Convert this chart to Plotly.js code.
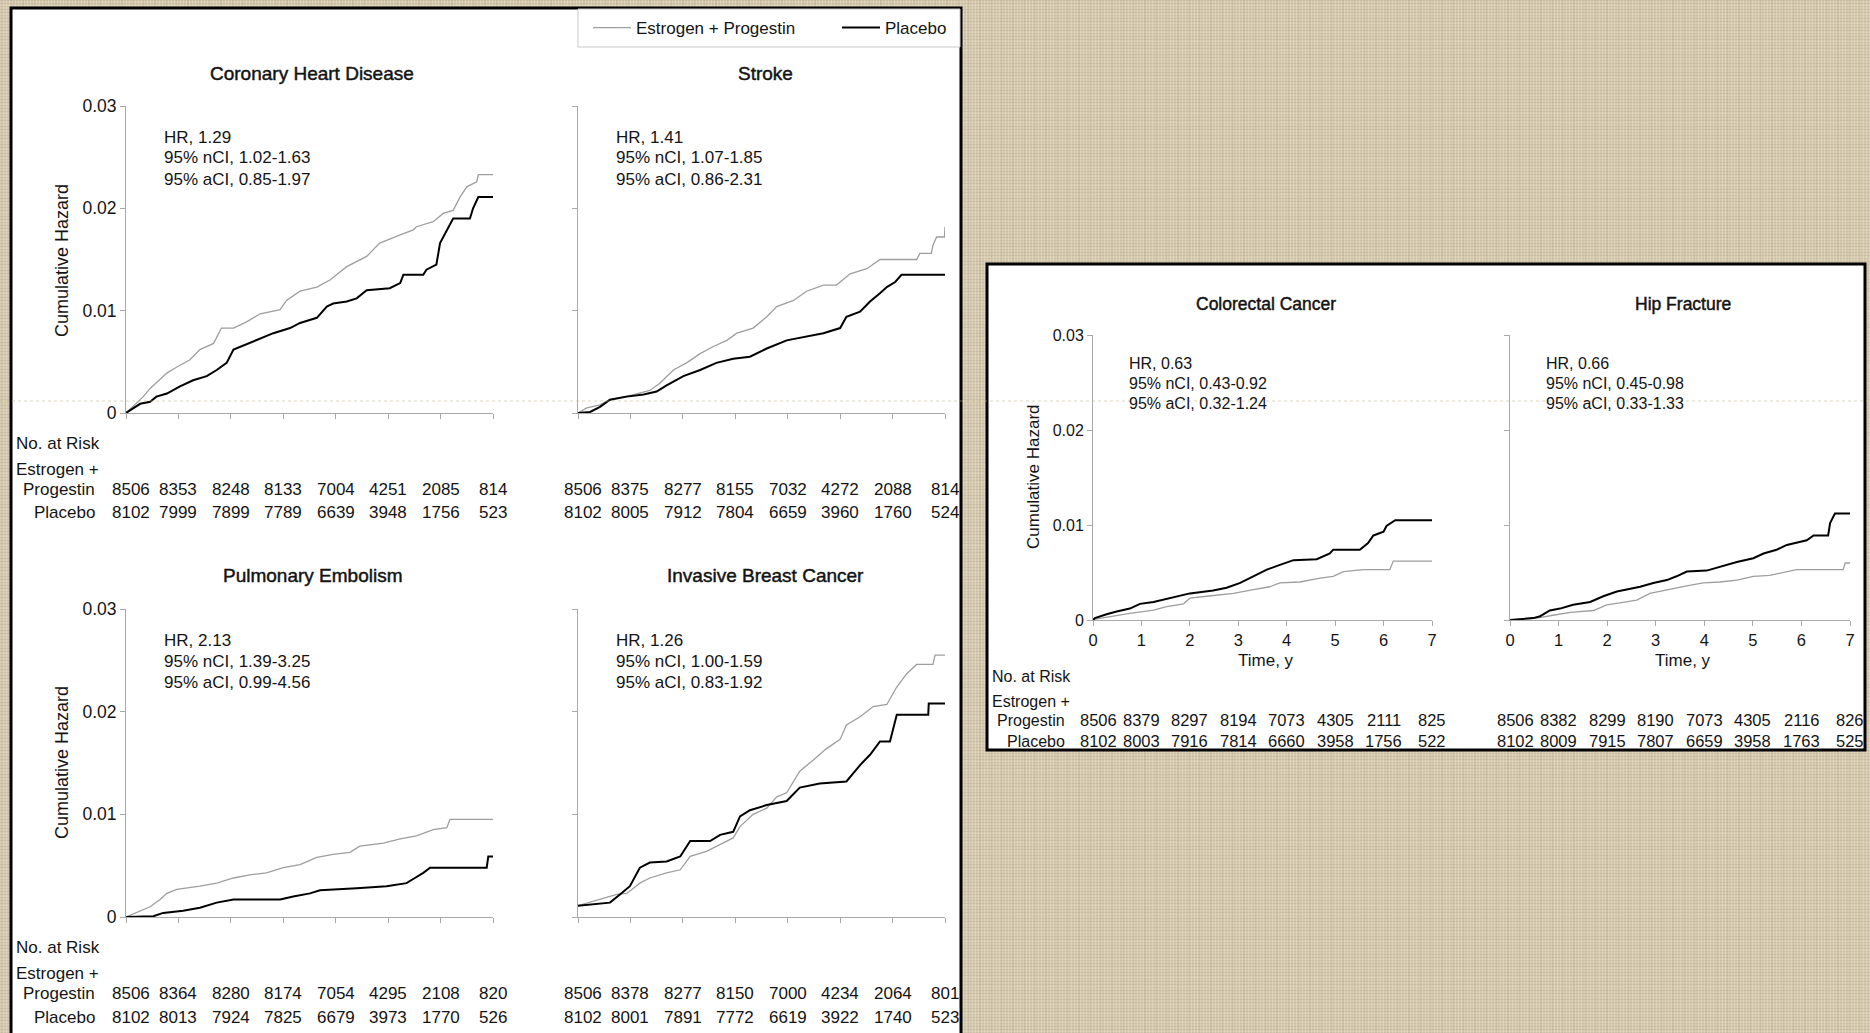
<!DOCTYPE html>
<html>
<head>
<meta charset="utf-8">
<script src="https://cdn.plot.ly/plotly-3.0.1.min.js"></script>
<style>
  html, body { margin: 0; padding: 0; width: 1870px; height: 1033px; overflow: hidden; }
  body {
    background-color: #d4c8ad;
    background-image:
      repeating-linear-gradient(90deg, rgba(255,252,240,0.26) 0px, rgba(255,252,240,0.26) 1px, rgba(0,0,0,0) 1px, rgba(0,0,0,0) 3px),
      repeating-linear-gradient(0deg, rgba(115,95,65,0.12) 0px, rgba(115,95,65,0.12) 1px, rgba(0,0,0,0) 1px, rgba(0,0,0,0) 3px),
      repeating-linear-gradient(90deg, rgba(120,100,70,0.07) 0px, rgba(120,100,70,0.07) 2px, rgba(0,0,0,0) 2px, rgba(0,0,0,0) 11px),
      repeating-linear-gradient(0deg, rgba(255,250,235,0.10) 0px, rgba(255,250,235,0.10) 2px, rgba(0,0,0,0) 2px, rgba(0,0,0,0) 9px);
  }
  #chart { width: 1870px; height: 1033px; }
</style>
</head>
<body>
<div id="chart"></div>
<script>
// ---------- data: cumulative hazard by follow-up year ----------
const years = [0, 1, 2, 3, 4, 5, 6, 7];
const seriesNames = ['Estrogen + Progestin', 'Placebo'];

// Coronary heart disease
const chdEPTime = [0, 0.33, 0.46, 0.78, 0.97, 1.22, 1.41, 1.67, 1.82, 2.05, 2.30, 2.56, 2.94, 3.06, 3.32, 3.64, 3.89, 4.21, 4.59, 4.84, 5.23, 5.48, 5.54, 5.86, 6.05, 6.24, 6.37, 6.50, 6.69, 6.72, 7.0];
const chdEPHaz  = [0, 0.0016, 0.0024, 0.0039, 0.0045, 0.0052, 0.0062, 0.0068, 0.0083, 0.0083, 0.0089, 0.0097, 0.0101, 0.0110, 0.0119, 0.0123, 0.0130, 0.0143, 0.0153, 0.0166, 0.0174, 0.0179, 0.0182, 0.0187, 0.0195, 0.0198, 0.0211, 0.0221, 0.0226, 0.0233, 0.0233];
const chdPlTime = [0, 0.14, 0.27, 0.46, 0.58, 0.78, 1.03, 1.28, 1.54, 1.73, 1.92, 2.05, 2.24, 2.56, 2.81, 3.13, 3.32, 3.64, 3.83, 3.95, 4.21, 4.40, 4.59, 5.03, 5.23, 5.29, 5.67, 5.73, 5.92, 5.99, 6.15, 6.24, 6.56, 6.62, 6.72, 7.0];
const chdPlHaz  = [0, 0.0005, 0.0009, 0.0011, 0.0016, 0.0019, 0.0026, 0.0032, 0.0036, 0.0042, 0.0049, 0.0062, 0.0066, 0.0073, 0.0078, 0.0083, 0.0088, 0.0093, 0.0104, 0.0107, 0.0109, 0.0112, 0.0120, 0.0122, 0.0127, 0.0135, 0.0135, 0.0140, 0.0145, 0.0166, 0.0182, 0.0190, 0.0190, 0.0200, 0.0211, 0.0211];

// Stroke
const strokeEPTime = [0, 0.17, 0.42, 0.61, 1.06, 1.37, 1.56, 1.82, 2.07, 2.33, 2.58, 2.84, 3.03, 3.34, 3.60, 3.79, 4.11, 4.36, 4.68, 4.93, 5.19, 5.51, 5.76, 6.46, 6.52, 6.74, 6.77, 6.84, 6.99, 7.0];
const strokeEPHaz  = [0, 0.0005, 0.0008, 0.0013, 0.0018, 0.0022, 0.0029, 0.0042, 0.0049, 0.0058, 0.0065, 0.0071, 0.0078, 0.0083, 0.0094, 0.0104, 0.0110, 0.0119, 0.0125, 0.0125, 0.0136, 0.0141, 0.0150, 0.0150, 0.0156, 0.0156, 0.0164, 0.0172, 0.0172, 0.0182];
const strokePlTime = [0, 0.23, 0.42, 0.61, 0.93, 1.25, 1.50, 1.69, 2.01, 2.33, 2.64, 2.96, 3.28, 3.60, 3.98, 4.36, 4.68, 5.0, 5.12, 5.38, 5.57, 5.76, 5.89, 6.05, 6.17, 7.0];
const strokePlHaz  = [0, 0.0001, 0.0006, 0.0013, 0.0016, 0.0018, 0.0021, 0.0027, 0.0036, 0.0042, 0.0049, 0.0053, 0.0055, 0.0063, 0.0071, 0.0075, 0.0078, 0.0083, 0.0094, 0.0099, 0.0109, 0.0117, 0.0123, 0.0128, 0.0135, 0.0135];

// Pulmonary embolism
const peEPTime = [0, 0.27, 0.46, 0.65, 0.78, 0.97, 1.16, 1.41, 1.73, 2.05, 2.36, 2.68, 3.0, 3.32, 3.64, 3.95, 4.27, 4.46, 4.91, 5.23, 5.54, 5.86, 6.12, 6.18, 7.0];
const peEPHaz  = [0, 0.00055, 0.0010, 0.0017, 0.0023, 0.0027, 0.0028, 0.0030, 0.0033, 0.0038, 0.0041, 0.0043, 0.0048, 0.0051, 0.0058, 0.0061, 0.0063, 0.0069, 0.0072, 0.0076, 0.0079, 0.0085, 0.0087, 0.0095, 0.0095];
const pePlTime = [0, 0.52, 0.71, 1.09, 1.41, 1.73, 2.05, 2.94, 3.19, 3.51, 3.70, 4.15, 4.40, 4.97, 5.35, 5.51, 5.67, 5.80, 6.88, 6.91, 7.0];
const pePlHaz  = [0, 0.00007, 0.0004, 0.0006, 0.0009, 0.0014, 0.0017, 0.0017, 0.0020, 0.0023, 0.0026, 0.0027, 0.0028, 0.0030, 0.0033, 0.0038, 0.0043, 0.0048, 0.0048, 0.0059, 0.0059];

// Invasive breast cancer
const breastEPTime = [0, 0.42, 0.74, 0.93, 1.18, 1.37, 1.69, 1.95, 2.14, 2.45, 2.64, 2.96, 3.09, 3.34, 3.60, 3.79, 3.98, 4.23, 4.49, 4.74, 5.0, 5.12, 5.38, 5.63, 5.89, 6.08, 6.27, 6.46, 6.77, 6.81, 7.0];
const breastEPHaz  = [0.0011, 0.0017, 0.0022, 0.0023, 0.0033, 0.0038, 0.0043, 0.0046, 0.0059, 0.0064, 0.0069, 0.0077, 0.0088, 0.0100, 0.0106, 0.0117, 0.0121, 0.0142, 0.0153, 0.0164, 0.0173, 0.0187, 0.0195, 0.0205, 0.0207, 0.0224, 0.0237, 0.0246, 0.0246, 0.0255, 0.0255];
const breastPlTime = [0, 0.61, 0.80, 0.99, 1.18, 1.37, 1.69, 1.95, 2.14, 2.52, 2.71, 2.96, 3.09, 3.28, 3.60, 3.98, 4.23, 4.61, 5.12, 5.25, 5.38, 5.57, 5.76, 5.95, 6.05, 6.08, 6.68, 6.69, 7.0];
const breastPlHaz  = [0.0011, 0.0014, 0.0022, 0.0030, 0.0048, 0.0053, 0.0054, 0.0059, 0.0074, 0.0074, 0.0080, 0.0083, 0.0098, 0.0104, 0.0109, 0.0113, 0.0126, 0.0130, 0.0132, 0.0140, 0.0148, 0.0158, 0.0171, 0.0171, 0.0190, 0.0197, 0.0197, 0.0208, 0.0208];

// Colorectal cancer
const crcEPTime = [0, 0.04, 0.42, 0.76, 1.25, 1.52, 1.87, 2.0, 2.35, 2.90, 3.31, 3.65, 3.86, 4.27, 4.69, 4.96, 5.17, 5.58, 6.13, 6.20, 7.0];
const crcEPHaz  = [0, 0.0001, 0.0004, 0.0007, 0.00105, 0.0014, 0.0017, 0.0023, 0.0025, 0.0028, 0.0032, 0.0035, 0.0039, 0.0040, 0.0044, 0.0046, 0.0051, 0.0053, 0.0053, 0.0062, 0.0062];
const crcPlTime = [0, 0.04, 0.28, 0.49, 0.76, 0.97, 1.25, 1.52, 1.80, 2.0, 2.48, 2.76, 3.04, 3.31, 3.59, 3.86, 4.14, 4.62, 4.89, 4.96, 5.51, 5.68, 5.79, 6.0, 6.06, 6.24, 7.0];
const crcPlHaz  = [0, 0.0002, 0.0006, 0.0009, 0.0012, 0.0017, 0.0019, 0.0022, 0.0025, 0.0028, 0.0031, 0.0034, 0.0039, 0.0046, 0.0053, 0.0058, 0.0063, 0.0064, 0.0070, 0.0074, 0.0074, 0.0081, 0.0089, 0.0093, 0.0099, 0.0105, 0.0105];

// Hip fracture
const hipEPTime = [0, 0.55, 0.89, 1.24, 1.72, 1.99, 2.26, 2.61, 2.88, 3.23, 3.64, 3.98, 4.32, 4.67, 5.01, 5.35, 5.70, 5.90, 6.86, 6.90, 7.0];
const hipEPHaz  = [0, 0.0002, 0.0005, 0.0008, 0.0010, 0.0016, 0.0018, 0.0021, 0.0028, 0.0032, 0.0036, 0.0039, 0.0040, 0.0042, 0.0046, 0.0047, 0.0051, 0.0053, 0.0053, 0.0060, 0.0060];
const hipPlTime = [0, 0.48, 0.62, 0.82, 1.03, 1.30, 1.65, 1.92, 2.20, 2.40, 2.68, 2.95, 3.23, 3.43, 3.64, 4.05, 4.32, 4.67, 5.01, 5.22, 5.49, 5.70, 6.11, 6.25, 6.55, 6.59, 6.69, 7.0];
const hipPlHaz  = [0, 0.0002, 0.0004, 0.0010, 0.0012, 0.0016, 0.0019, 0.0025, 0.0030, 0.0032, 0.0035, 0.0039, 0.0042, 0.0046, 0.0051, 0.0052, 0.0056, 0.0061, 0.0065, 0.0070, 0.0074, 0.0079, 0.0084, 0.0089, 0.0089, 0.0102, 0.0112, 0.0112];

// Numbers at risk at each year
const chdRiskEP    = [8506, 8353, 8248, 8133, 7004, 4251, 2085, 814];
const chdRiskPl    = [8102, 7999, 7899, 7789, 6639, 3948, 1756, 523];
const strokeRiskEP = [8506, 8375, 8277, 8155, 7032, 4272, 2088, 814];
const strokeRiskPl = [8102, 8005, 7912, 7804, 6659, 3960, 1760, 524];
const peRiskEP     = [8506, 8364, 8280, 8174, 7054, 4295, 2108, 820];
const peRiskPl     = [8102, 8013, 7924, 7825, 6679, 3973, 1770, 526];
const breastRiskEP = [8506, 8378, 8277, 8150, 7000, 4234, 2064, 801];
const breastRiskPl = [8102, 8001, 7891, 7772, 6619, 3922, 1740, 523];
const crcRiskEP    = [8506, 8379, 8297, 8194, 7073, 4305, 2111, 825];
const crcRiskPl    = [8102, 8003, 7916, 7814, 6660, 3958, 1756, 522];
const hipRiskEP    = [8506, 8382, 8299, 8190, 7073, 4305, 2116, 826];
const hipRiskPl    = [8102, 8009, 7915, 7807, 6659, 3958, 1763, 525];

// Hazard ratios with nominal and adjusted confidence intervals
const chdStats    = ['HR, 1.29', '95% nCI, 1.02-1.63', '95% aCI, 0.85-1.97'];
const strokeStats = ['HR, 1.41', '95% nCI, 1.07-1.85', '95% aCI, 0.86-2.31'];
const peStats     = ['HR, 2.13', '95% nCI, 1.39-3.25', '95% aCI, 0.99-4.56'];
const breastStats = ['HR, 1.26', '95% nCI, 1.00-1.59', '95% aCI, 0.83-1.92'];
const crcStats    = ['HR, 0.63', '95% nCI, 0.43-0.92', '95% aCI, 0.32-1.24'];
const hipStats    = ['HR, 0.66', '95% nCI, 0.45-0.98', '95% aCI, 0.33-1.33'];

const panelTitles = ['Coronary Heart Disease', 'Stroke', 'Pulmonary Embolism', 'Invasive Breast Cancer', 'Colorectal Cancer', 'Hip Fracture'];
const hazardTicks = [0, 0.01, 0.02, 0.03];
const hazardTickText = ['0', '0.01', '0.02', '0.03'];
const riskLabels = ['No. at Risk', 'Estrogen +', 'Progestin', 'Placebo'];
const yTitle = 'Cumulative Hazard';
const xTitle = 'Time, y';

// ---------- layout helpers (pixel positions on a 1870 x 1033 page) ----------
const W = 1870, H = 1033;
const px = x => x / W;
const py = y => 1 - y / H;
const FONT = 'Liberation Sans, Arial, Helvetica, sans-serif';
const INK = '#141414';
const AXIS = '#a9a9a9';
const EP_COLOR = '#9e9e9e';
const PL_COLOR = '#000000';

// Each panel: plot box (left, right, top, bottom) in pixels, text geometry and sizes
const panels = [
  { title: panelTitles[0], epT: chdEPTime, epH: chdEPHaz, plT: chdPlTime, plH: chdPlHaz, riskEP: chdRiskEP, riskPl: chdRiskPl, stats: chdStats,
    box: [126, 493, 106, 413], titleXY: [312, 73], statsXY: [162, 137], lineGap: 21, yLabels: true, xLabels: false,
    riskY: [489, 513], big: true },
  { title: panelTitles[1], epT: strokeEPTime, epH: strokeEPHaz, plT: strokePlTime, plH: strokePlHaz, riskEP: strokeRiskEP, riskPl: strokeRiskPl, stats: strokeStats,
    box: [578, 945, 106, 413], titleXY: [765, 73], statsXY: [614, 137], lineGap: 21, yLabels: false, xLabels: false,
    riskY: [489, 513], big: true },
  { title: panelTitles[2], epT: peEPTime, epH: peEPHaz, plT: pePlTime, plH: pePlHaz, riskEP: peRiskEP, riskPl: peRiskPl, stats: peStats,
    box: [126, 493, 609, 917], titleXY: [313, 575], statsXY: [162, 640], lineGap: 21, yLabels: true, xLabels: false,
    riskY: [993, 1017], big: true },
  { title: panelTitles[3], epT: breastEPTime, epH: breastEPHaz, plT: breastPlTime, plH: breastPlHaz, riskEP: breastRiskEP, riskPl: breastRiskPl, stats: breastStats,
    box: [578, 945, 609, 917], titleXY: [765, 575], statsXY: [614, 640], lineGap: 21, yLabels: false, xLabels: false,
    riskY: [993, 1017], big: true },
  { title: panelTitles[4], epT: crcEPTime, epH: crcEPHaz, plT: crcPlTime, plH: crcPlHaz, riskEP: crcRiskEP, riskPl: crcRiskPl, stats: crcStats,
    box: [1093, 1432, 335, 620], titleXY: [1266, 304], statsXY: [1127, 364], lineGap: 19.5, yLabels: true, xLabels: true,
    riskY: [720, 741], big: false },
  { title: panelTitles[5], epT: hipEPTime, epH: hipEPHaz, plT: hipPlTime, plH: hipPlHaz, riskEP: hipRiskEP, riskPl: hipRiskPl, stats: hipStats,
    box: [1510, 1850, 335, 620], titleXY: [1683, 304], statsXY: [1544, 364], lineGap: 19.5, yLabels: false, xLabels: true,
    riskY: [720, 741], big: false }
];

const traces = [];
const legendBase = { xanchor: 'left', y: py(28), yanchor: 'middle', orientation: 'h', itemwidth: 38,
                     bgcolor: 'rgba(0,0,0,0)', borderwidth: 0, font: { family: FONT, size: 17, color: INK } };
const layout = {
  width: W, height: H,
  margin: { l: 0, r: 0, t: 0, b: 0 },
  paper_bgcolor: 'rgba(0,0,0,0)',
  plot_bgcolor: 'rgba(0,0,0,0)',
  font: { family: FONT, color: INK },
  showlegend: true,
  legend:  Object.assign({ x: px(588) }, legendBase),
  legend2: Object.assign({ x: px(837) }, legendBase),
  annotations: [],
  shapes: [
    // white boards with heavy black frames
    { type: 'rect', xref: 'paper', yref: 'paper', x0: px(11), x1: px(961), y0: py(8), y1: py(1050),
      fillcolor: '#ffffff', line: { color: '#000', width: 3 }, layer: 'below' },
    { type: 'rect', xref: 'paper', yref: 'paper', x0: px(987), x1: px(1865), y0: py(264), y1: py(750),
      fillcolor: '#ffffff', line: { color: '#000', width: 3 }, layer: 'below' },
    // legend frame
    { type: 'rect', xref: 'paper', yref: 'paper', x0: px(578), x1: px(960), y0: py(9), y1: py(47),
      fillcolor: '#ffffff', line: { color: '#c9c9c9', width: 1 }, layer: 'below' },
    // faint dotted crease running across the page
    { type: 'line', xref: 'paper', yref: 'paper', x0: 0, x1: 1, y0: py(401), y1: py(401),
      line: { color: 'rgba(190,180,140,0.55)', width: 1, dash: 'dot' }, layer: 'above' }
  ]
};

function addText(text, x, y, size, opts) {
  layout.annotations.push(Object.assign({
    text: text, x: x, y: y, xref: 'paper', yref: 'paper', showarrow: false,
    xanchor: 'center', yanchor: 'middle', font: { family: FONT, size: size, color: INK }
  }, opts || {}));
}

panels.forEach((p, i) => {
  const n = i + 1;
  const xa = n === 1 ? 'xaxis' : 'xaxis' + n;
  const ya = n === 1 ? 'yaxis' : 'yaxis' + n;
  const xr = n === 1 ? 'x' : 'x' + n;
  const yr = n === 1 ? 'y' : 'y' + n;
  const [l, r, t, b] = p.box;
  const tickSize = p.big ? 17.5 : 16;

  layout[xa] = {
    domain: [px(l), px(r)], anchor: yr, range: [0, 7],
    tickvals: years, ticktext: years.map(String), showticklabels: p.xLabels,
    ticks: 'outside', ticklen: 5, tickwidth: 1, tickcolor: AXIS,
    showline: true, linecolor: AXIS, linewidth: 1, showgrid: false, zeroline: false,
    tickfont: { family: FONT, size: 16.5, color: INK }, fixedrange: true
  };
  layout[ya] = {
    domain: [py(b), py(t)], anchor: xr, range: [0, 0.03],
    tickvals: hazardTicks, ticktext: hazardTickText, showticklabels: p.yLabels,
    ticks: 'outside', ticklen: 5, tickwidth: 1, tickcolor: AXIS,
    showline: true, linecolor: AXIS, linewidth: 1, showgrid: false, zeroline: false,
    tickfont: { family: FONT, size: tickSize, color: INK }, fixedrange: true
  };

  traces.push({
    x: p.epT, y: p.epH, xaxis: xr, yaxis: yr, type: 'scatter', mode: 'lines',
    line: { shape: 'linear', color: EP_COLOR, width: 1.3 },
    name: seriesNames[0], showlegend: n === 1, legend: 'legend', hoverinfo: 'skip'
  });
  traces.push({
    x: p.plT, y: p.plH, xaxis: xr, yaxis: yr, type: 'scatter', mode: 'lines',
    line: { shape: 'linear', color: PL_COLOR, width: 2 },
    name: seriesNames[1], showlegend: n === 1, legend: 'legend2', hoverinfo: 'skip'
  });

  // panel title, slightly heavier than the body text
  addText('<span style="stroke:#111;stroke-width:0.45px">' + p.title + '</span>',
          px(p.titleXY[0]), py(p.titleXY[1]), p.big ? 19 : 17.5);

  // hazard ratio block
  p.stats.forEach((s, k) => {
    addText(s, px(p.statsXY[0]), py(p.statsXY[1] + k * p.lineGap), p.big ? 17 : 16, { xanchor: 'left' });
  });

  // numbers at risk under each year tick
  const riskSize = p.big ? 17 : 16.5;
  years.forEach((yr0, k) => {
    const shift = k === 0 ? 5 : 0;
    addText(String(p.riskEP[k]), yr0, py(p.riskY[0]), riskSize, { xref: xr, xshift: shift });
    addText(String(p.riskPl[k]), yr0, py(p.riskY[1]), riskSize, { xref: xr, xshift: shift });
  });

  // time axis title under the lower-right panels
  if (p.xLabels) addText(xTitle, px(p.titleXY[0]), py(660), 17);
});

// vertical axis titles
addText(yTitle, px(62), py(261), 18, { textangle: -90 });
addText(yTitle, px(62), py(763), 18, { textangle: -90 });
addText(yTitle, px(1033), py(477), 17, { textangle: -90 });

// row labels of the numbers-at-risk tables
[[443, 469, 489, 513, 14, 97, 17], [947, 973, 993, 1017, 14, 97, 17], [676, 701, 720, 741, 990, 1067, 16]].forEach(g => {
  const [yA, yB, yC, yD, xl, xr, sz] = g;
  addText(riskLabels[0], px(xl), py(yA), sz, { xanchor: 'left' });
  addText(riskLabels[1], px(xl), py(yB), sz, { xanchor: 'left' });
  addText(riskLabels[2], px(xr), py(yC), sz, { xanchor: 'right' });
  addText(riskLabels[3], px(xr), py(yD), sz, { xanchor: 'right' });
});

Plotly.newPlot('chart', traces, layout, { staticPlot: true, displayModeBar: false });
</script>
</body>
</html>
